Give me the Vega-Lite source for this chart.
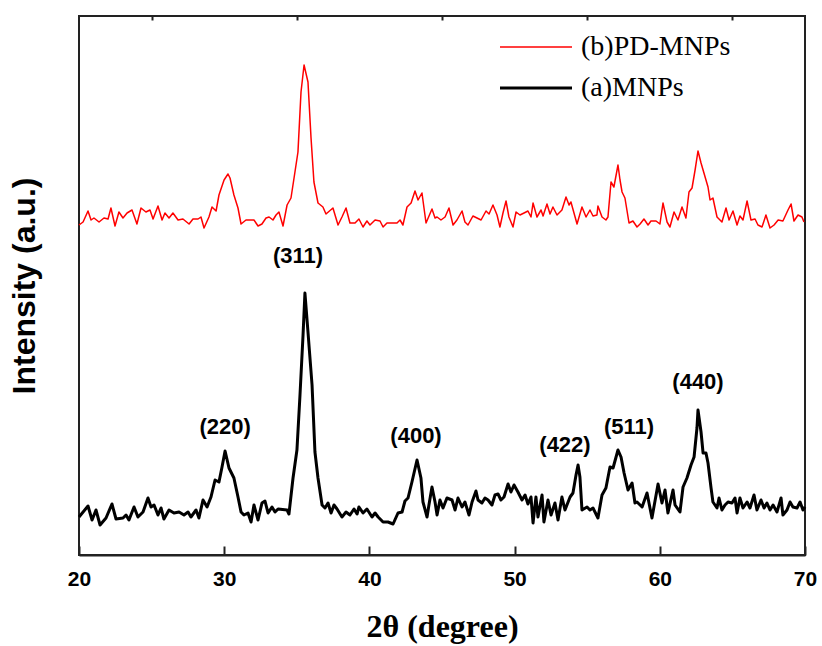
{
 "$schema": "https://vega.github.io/schema/vega-lite/v6.json",
 "width": 726, "height": 539,
 "autosize": "none",
 "padding": {"left": 79, "top": 16, "right": 17, "bottom": 91},
 "background": "white",
 "config": {"view": {"stroke": "#222", "strokeWidth": 2}},
 "datasets": {
  "xrd": [
   {"angle":20.00,"intensity":38,"sample":"(a)MNPs"},{"angle":20.62,"intensity":49,"sample":"(a)MNPs"},{"angle":20.90,"intensity":35,"sample":"(a)MNPs"},{"angle":21.17,"intensity":45,"sample":"(a)MNPs"},{"angle":21.45,"intensity":30,"sample":"(a)MNPs"},{"angle":21.86,"intensity":37,"sample":"(a)MNPs"},{"angle":22.27,"intensity":51,"sample":"(a)MNPs"},{"angle":22.55,"intensity":36,"sample":"(a)MNPs"},{"angle":23.03,"intensity":37,"sample":"(a)MNPs"},{"angle":23.24,"intensity":40,"sample":"(a)MNPs"},{"angle":23.44,"intensity":35,"sample":"(a)MNPs"},{"angle":23.79,"intensity":48,"sample":"(a)MNPs"},{"angle":24.06,"intensity":38,"sample":"(a)MNPs"},{"angle":24.41,"intensity":43,"sample":"(a)MNPs"},{"angle":24.75,"intensity":57,"sample":"(a)MNPs"},{"angle":24.96,"intensity":48,"sample":"(a)MNPs"},{"angle":25.17,"intensity":50,"sample":"(a)MNPs"},{"angle":25.44,"intensity":40,"sample":"(a)MNPs"},{"angle":25.65,"intensity":47,"sample":"(a)MNPs"},{"angle":25.85,"intensity":36,"sample":"(a)MNPs"},{"angle":26.20,"intensity":45,"sample":"(a)MNPs"},{"angle":26.54,"intensity":42,"sample":"(a)MNPs"},{"angle":26.89,"intensity":43,"sample":"(a)MNPs"},{"angle":27.23,"intensity":40,"sample":"(a)MNPs"},{"angle":27.51,"intensity":43,"sample":"(a)MNPs"},{"angle":27.71,"intensity":38,"sample":"(a)MNPs"},{"angle":28.06,"intensity":45,"sample":"(a)MNPs"},{"angle":28.26,"intensity":37,"sample":"(a)MNPs"},{"angle":28.54,"intensity":55,"sample":"(a)MNPs"},{"angle":28.82,"intensity":48,"sample":"(a)MNPs"},{"angle":29.09,"intensity":58,"sample":"(a)MNPs"},{"angle":29.37,"intensity":75,"sample":"(a)MNPs"},{"angle":29.64,"intensity":73,"sample":"(a)MNPs"},{"angle":29.85,"intensity":88,"sample":"(a)MNPs"},{"angle":30.06,"intensity":104,"sample":"(a)MNPs"},{"angle":30.33,"intensity":87,"sample":"(a)MNPs"},{"angle":30.67,"intensity":77,"sample":"(a)MNPs"},{"angle":30.95,"intensity":58,"sample":"(a)MNPs"},{"angle":31.16,"intensity":43,"sample":"(a)MNPs"},{"angle":31.36,"intensity":40,"sample":"(a)MNPs"},{"angle":31.64,"intensity":42,"sample":"(a)MNPs"},{"angle":31.85,"intensity":33,"sample":"(a)MNPs"},{"angle":32.05,"intensity":50,"sample":"(a)MNPs"},{"angle":32.33,"intensity":35,"sample":"(a)MNPs"},{"angle":32.60,"intensity":52,"sample":"(a)MNPs"},{"angle":32.81,"intensity":54,"sample":"(a)MNPs"},{"angle":33.02,"intensity":42,"sample":"(a)MNPs"},{"angle":33.29,"intensity":48,"sample":"(a)MNPs"},{"angle":33.50,"intensity":43,"sample":"(a)MNPs"},{"angle":33.71,"intensity":46,"sample":"(a)MNPs"},{"angle":34.33,"intensity":45,"sample":"(a)MNPs"},{"angle":34.46,"intensity":41,"sample":"(a)MNPs"},{"angle":34.74,"intensity":77,"sample":"(a)MNPs"},{"angle":35.01,"intensity":105,"sample":"(a)MNPs"},{"angle":35.22,"intensity":160,"sample":"(a)MNPs"},{"angle":35.43,"intensity":220,"sample":"(a)MNPs"},{"angle":35.56,"intensity":262,"sample":"(a)MNPs"},{"angle":35.77,"intensity":223,"sample":"(a)MNPs"},{"angle":36.05,"intensity":170,"sample":"(a)MNPs"},{"angle":36.25,"intensity":103,"sample":"(a)MNPs"},{"angle":36.46,"intensity":77,"sample":"(a)MNPs"},{"angle":36.74,"intensity":50,"sample":"(a)MNPs"},{"angle":36.94,"intensity":47,"sample":"(a)MNPs"},{"angle":37.15,"intensity":52,"sample":"(a)MNPs"},{"angle":37.36,"intensity":42,"sample":"(a)MNPs"},{"angle":37.56,"intensity":50,"sample":"(a)MNPs"},{"angle":37.77,"intensity":46,"sample":"(a)MNPs"},{"angle":38.11,"intensity":38,"sample":"(a)MNPs"},{"angle":38.39,"intensity":43,"sample":"(a)MNPs"},{"angle":38.66,"intensity":40,"sample":"(a)MNPs"},{"angle":38.94,"intensity":46,"sample":"(a)MNPs"},{"angle":39.15,"intensity":41,"sample":"(a)MNPs"},{"angle":39.28,"intensity":48,"sample":"(a)MNPs"},{"angle":39.56,"intensity":42,"sample":"(a)MNPs"},{"angle":39.83,"intensity":46,"sample":"(a)MNPs"},{"angle":40.18,"intensity":38,"sample":"(a)MNPs"},{"angle":40.39,"intensity":42,"sample":"(a)MNPs"},{"angle":40.60,"intensity":38,"sample":"(a)MNPs"},{"angle":40.94,"intensity":33,"sample":"(a)MNPs"},{"angle":41.28,"intensity":33,"sample":"(a)MNPs"},{"angle":41.63,"intensity":31,"sample":"(a)MNPs"},{"angle":41.97,"intensity":42,"sample":"(a)MNPs"},{"angle":42.25,"intensity":43,"sample":"(a)MNPs"},{"angle":42.45,"intensity":54,"sample":"(a)MNPs"},{"angle":42.66,"intensity":57,"sample":"(a)MNPs"},{"angle":42.93,"intensity":73,"sample":"(a)MNPs"},{"angle":43.28,"intensity":95,"sample":"(a)MNPs"},{"angle":43.55,"intensity":77,"sample":"(a)MNPs"},{"angle":43.69,"intensity":53,"sample":"(a)MNPs"},{"angle":43.97,"intensity":38,"sample":"(a)MNPs"},{"angle":44.10,"intensity":50,"sample":"(a)MNPs"},{"angle":44.31,"intensity":68,"sample":"(a)MNPs"},{"angle":44.52,"intensity":53,"sample":"(a)MNPs"},{"angle":44.66,"intensity":40,"sample":"(a)MNPs"},{"angle":44.86,"intensity":55,"sample":"(a)MNPs"},{"angle":45.07,"intensity":47,"sample":"(a)MNPs"},{"angle":45.34,"intensity":57,"sample":"(a)MNPs"},{"angle":45.69,"intensity":55,"sample":"(a)MNPs"},{"angle":45.90,"intensity":45,"sample":"(a)MNPs"},{"angle":46.10,"intensity":57,"sample":"(a)MNPs"},{"angle":46.38,"intensity":48,"sample":"(a)MNPs"},{"angle":46.58,"intensity":53,"sample":"(a)MNPs"},{"angle":46.86,"intensity":40,"sample":"(a)MNPs"},{"angle":47.07,"intensity":53,"sample":"(a)MNPs"},{"angle":47.34,"intensity":64,"sample":"(a)MNPs"},{"angle":47.48,"intensity":55,"sample":"(a)MNPs"},{"angle":47.75,"intensity":52,"sample":"(a)MNPs"},{"angle":47.96,"intensity":57,"sample":"(a)MNPs"},{"angle":48.17,"intensity":55,"sample":"(a)MNPs"},{"angle":48.44,"intensity":50,"sample":"(a)MNPs"},{"angle":48.65,"intensity":60,"sample":"(a)MNPs"},{"angle":48.86,"intensity":61,"sample":"(a)MNPs"},{"angle":49.06,"intensity":55,"sample":"(a)MNPs"},{"angle":49.27,"intensity":58,"sample":"(a)MNPs"},{"angle":49.55,"intensity":71,"sample":"(a)MNPs"},{"angle":49.75,"intensity":63,"sample":"(a)MNPs"},{"angle":49.96,"intensity":70,"sample":"(a)MNPs"},{"angle":50.23,"intensity":63,"sample":"(a)MNPs"},{"angle":50.51,"intensity":55,"sample":"(a)MNPs"},{"angle":50.72,"intensity":60,"sample":"(a)MNPs"},{"angle":50.92,"intensity":51,"sample":"(a)MNPs"},{"angle":51.13,"intensity":58,"sample":"(a)MNPs"},{"angle":51.27,"intensity":32,"sample":"(a)MNPs"},{"angle":51.47,"intensity":58,"sample":"(a)MNPs"},{"angle":51.61,"intensity":38,"sample":"(a)MNPs"},{"angle":51.89,"intensity":60,"sample":"(a)MNPs"},{"angle":52.02,"intensity":33,"sample":"(a)MNPs"},{"angle":52.30,"intensity":55,"sample":"(a)MNPs"},{"angle":52.51,"intensity":40,"sample":"(a)MNPs"},{"angle":52.78,"intensity":52,"sample":"(a)MNPs"},{"angle":52.99,"intensity":35,"sample":"(a)MNPs"},{"angle":53.26,"intensity":58,"sample":"(a)MNPs"},{"angle":53.47,"intensity":45,"sample":"(a)MNPs"},{"angle":53.82,"intensity":58,"sample":"(a)MNPs"},{"angle":54.02,"intensity":62,"sample":"(a)MNPs"},{"angle":54.23,"intensity":80,"sample":"(a)MNPs"},{"angle":54.37,"intensity":90,"sample":"(a)MNPs"},{"angle":54.50,"intensity":78,"sample":"(a)MNPs"},{"angle":54.64,"intensity":45,"sample":"(a)MNPs"},{"angle":54.99,"intensity":48,"sample":"(a)MNPs"},{"angle":55.19,"intensity":45,"sample":"(a)MNPs"},{"angle":55.40,"intensity":47,"sample":"(a)MNPs"},{"angle":55.74,"intensity":37,"sample":"(a)MNPs"},{"angle":56.02,"intensity":60,"sample":"(a)MNPs"},{"angle":56.29,"intensity":67,"sample":"(a)MNPs"},{"angle":56.57,"intensity":88,"sample":"(a)MNPs"},{"angle":56.78,"intensity":87,"sample":"(a)MNPs"},{"angle":57.12,"intensity":105,"sample":"(a)MNPs"},{"angle":57.33,"intensity":98,"sample":"(a)MNPs"},{"angle":57.54,"intensity":82,"sample":"(a)MNPs"},{"angle":57.81,"intensity":65,"sample":"(a)MNPs"},{"angle":58.09,"intensity":72,"sample":"(a)MNPs"},{"angle":58.29,"intensity":52,"sample":"(a)MNPs"},{"angle":58.43,"intensity":53,"sample":"(a)MNPs"},{"angle":58.78,"intensity":48,"sample":"(a)MNPs"},{"angle":59.12,"intensity":62,"sample":"(a)MNPs"},{"angle":59.46,"intensity":37,"sample":"(a)MNPs"},{"angle":59.88,"intensity":71,"sample":"(a)MNPs"},{"angle":60.15,"intensity":52,"sample":"(a)MNPs"},{"angle":60.36,"intensity":65,"sample":"(a)MNPs"},{"angle":60.56,"intensity":42,"sample":"(a)MNPs"},{"angle":60.91,"intensity":65,"sample":"(a)MNPs"},{"angle":61.05,"intensity":50,"sample":"(a)MNPs"},{"angle":61.39,"intensity":43,"sample":"(a)MNPs"},{"angle":61.60,"intensity":68,"sample":"(a)MNPs"},{"angle":61.87,"intensity":77,"sample":"(a)MNPs"},{"angle":62.15,"intensity":90,"sample":"(a)MNPs"},{"angle":62.36,"intensity":98,"sample":"(a)MNPs"},{"angle":62.56,"intensity":127,"sample":"(a)MNPs"},{"angle":62.63,"intensity":145,"sample":"(a)MNPs"},{"angle":62.84,"intensity":123,"sample":"(a)MNPs"},{"angle":62.98,"intensity":102,"sample":"(a)MNPs"},{"angle":63.18,"intensity":102,"sample":"(a)MNPs"},{"angle":63.32,"intensity":92,"sample":"(a)MNPs"},{"angle":63.53,"intensity":67,"sample":"(a)MNPs"},{"angle":63.66,"intensity":53,"sample":"(a)MNPs"},{"angle":63.94,"intensity":47,"sample":"(a)MNPs"},{"angle":64.08,"intensity":57,"sample":"(a)MNPs"},{"angle":64.28,"intensity":45,"sample":"(a)MNPs"},{"angle":64.49,"intensity":50,"sample":"(a)MNPs"},{"angle":64.70,"intensity":53,"sample":"(a)MNPs"},{"angle":64.97,"intensity":52,"sample":"(a)MNPs"},{"angle":65.18,"intensity":57,"sample":"(a)MNPs"},{"angle":65.32,"intensity":42,"sample":"(a)MNPs"},{"angle":65.52,"intensity":57,"sample":"(a)MNPs"},{"angle":65.73,"intensity":47,"sample":"(a)MNPs"},{"angle":66.01,"intensity":53,"sample":"(a)MNPs"},{"angle":66.21,"intensity":47,"sample":"(a)MNPs"},{"angle":66.49,"intensity":60,"sample":"(a)MNPs"},{"angle":66.69,"intensity":45,"sample":"(a)MNPs"},{"angle":66.97,"intensity":55,"sample":"(a)MNPs"},{"angle":67.18,"intensity":47,"sample":"(a)MNPs"},{"angle":67.38,"intensity":52,"sample":"(a)MNPs"},{"angle":67.59,"intensity":45,"sample":"(a)MNPs"},{"angle":67.80,"intensity":50,"sample":"(a)MNPs"},{"angle":68.07,"intensity":43,"sample":"(a)MNPs"},{"angle":68.35,"intensity":57,"sample":"(a)MNPs"},{"angle":68.48,"intensity":40,"sample":"(a)MNPs"},{"angle":68.76,"intensity":45,"sample":"(a)MNPs"},{"angle":68.97,"intensity":53,"sample":"(a)MNPs"},{"angle":69.17,"intensity":48,"sample":"(a)MNPs"},{"angle":69.45,"intensity":47,"sample":"(a)MNPs"},{"angle":69.66,"intensity":53,"sample":"(a)MNPs"},{"angle":69.86,"intensity":45,"sample":"(a)MNPs"},{"angle":70.00,"intensity":48,"sample":"(a)MNPs"},
   {"angle":20.00,"intensity":330,"sample":"(b)PD-MNPs"},{"angle":20.28,"intensity":333,"sample":"(b)PD-MNPs"},{"angle":20.62,"intensity":344,"sample":"(b)PD-MNPs"},{"angle":20.83,"intensity":335,"sample":"(b)PD-MNPs"},{"angle":21.03,"intensity":337,"sample":"(b)PD-MNPs"},{"angle":21.38,"intensity":333,"sample":"(b)PD-MNPs"},{"angle":21.72,"intensity":337,"sample":"(b)PD-MNPs"},{"angle":22.00,"intensity":336,"sample":"(b)PD-MNPs"},{"angle":22.20,"intensity":347,"sample":"(b)PD-MNPs"},{"angle":22.48,"intensity":329,"sample":"(b)PD-MNPs"},{"angle":22.75,"intensity":343,"sample":"(b)PD-MNPs"},{"angle":23.03,"intensity":337,"sample":"(b)PD-MNPs"},{"angle":23.31,"intensity":342,"sample":"(b)PD-MNPs"},{"angle":23.65,"intensity":345,"sample":"(b)PD-MNPs"},{"angle":23.99,"intensity":331,"sample":"(b)PD-MNPs"},{"angle":24.27,"intensity":347,"sample":"(b)PD-MNPs"},{"angle":24.61,"intensity":343,"sample":"(b)PD-MNPs"},{"angle":24.89,"intensity":345,"sample":"(b)PD-MNPs"},{"angle":25.10,"intensity":336,"sample":"(b)PD-MNPs"},{"angle":25.44,"intensity":349,"sample":"(b)PD-MNPs"},{"angle":25.72,"intensity":335,"sample":"(b)PD-MNPs"},{"angle":25.92,"intensity":342,"sample":"(b)PD-MNPs"},{"angle":26.20,"intensity":337,"sample":"(b)PD-MNPs"},{"angle":26.47,"intensity":342,"sample":"(b)PD-MNPs"},{"angle":26.82,"intensity":335,"sample":"(b)PD-MNPs"},{"angle":27.16,"intensity":336,"sample":"(b)PD-MNPs"},{"angle":27.58,"intensity":331,"sample":"(b)PD-MNPs"},{"angle":27.85,"intensity":336,"sample":"(b)PD-MNPs"},{"angle":28.20,"intensity":336,"sample":"(b)PD-MNPs"},{"angle":28.40,"intensity":338,"sample":"(b)PD-MNPs"},{"angle":28.61,"intensity":327,"sample":"(b)PD-MNPs"},{"angle":28.95,"intensity":338,"sample":"(b)PD-MNPs"},{"angle":29.16,"intensity":348,"sample":"(b)PD-MNPs"},{"angle":29.44,"intensity":344,"sample":"(b)PD-MNPs"},{"angle":29.64,"intensity":360,"sample":"(b)PD-MNPs"},{"angle":29.99,"intensity":375,"sample":"(b)PD-MNPs"},{"angle":30.26,"intensity":381,"sample":"(b)PD-MNPs"},{"angle":30.40,"intensity":377,"sample":"(b)PD-MNPs"},{"angle":30.67,"intensity":360,"sample":"(b)PD-MNPs"},{"angle":30.95,"intensity":347,"sample":"(b)PD-MNPs"},{"angle":31.16,"intensity":331,"sample":"(b)PD-MNPs"},{"angle":31.50,"intensity":335,"sample":"(b)PD-MNPs"},{"angle":31.85,"intensity":335,"sample":"(b)PD-MNPs"},{"angle":32.05,"intensity":335,"sample":"(b)PD-MNPs"},{"angle":32.33,"intensity":329,"sample":"(b)PD-MNPs"},{"angle":32.60,"intensity":331,"sample":"(b)PD-MNPs"},{"angle":32.88,"intensity":337,"sample":"(b)PD-MNPs"},{"angle":33.09,"intensity":338,"sample":"(b)PD-MNPs"},{"angle":33.36,"intensity":335,"sample":"(b)PD-MNPs"},{"angle":33.57,"intensity":340,"sample":"(b)PD-MNPs"},{"angle":33.77,"intensity":343,"sample":"(b)PD-MNPs"},{"angle":34.05,"intensity":329,"sample":"(b)PD-MNPs"},{"angle":34.33,"intensity":350,"sample":"(b)PD-MNPs"},{"angle":34.60,"intensity":357,"sample":"(b)PD-MNPs"},{"angle":34.81,"intensity":377,"sample":"(b)PD-MNPs"},{"angle":35.08,"intensity":403,"sample":"(b)PD-MNPs"},{"angle":35.29,"intensity":463,"sample":"(b)PD-MNPs"},{"angle":35.50,"intensity":490,"sample":"(b)PD-MNPs"},{"angle":35.77,"intensity":473,"sample":"(b)PD-MNPs"},{"angle":35.98,"intensity":417,"sample":"(b)PD-MNPs"},{"angle":36.18,"intensity":373,"sample":"(b)PD-MNPs"},{"angle":36.46,"intensity":352,"sample":"(b)PD-MNPs"},{"angle":36.80,"intensity":348,"sample":"(b)PD-MNPs"},{"angle":37.01,"intensity":341,"sample":"(b)PD-MNPs"},{"angle":37.49,"intensity":347,"sample":"(b)PD-MNPs"},{"angle":37.84,"intensity":330,"sample":"(b)PD-MNPs"},{"angle":38.11,"intensity":338,"sample":"(b)PD-MNPs"},{"angle":38.39,"intensity":347,"sample":"(b)PD-MNPs"},{"angle":38.66,"intensity":332,"sample":"(b)PD-MNPs"},{"angle":39.01,"intensity":332,"sample":"(b)PD-MNPs"},{"angle":39.28,"intensity":336,"sample":"(b)PD-MNPs"},{"angle":39.56,"intensity":328,"sample":"(b)PD-MNPs"},{"angle":39.83,"intensity":334,"sample":"(b)PD-MNPs"},{"angle":40.04,"intensity":330,"sample":"(b)PD-MNPs"},{"angle":40.39,"intensity":335,"sample":"(b)PD-MNPs"},{"angle":40.73,"intensity":334,"sample":"(b)PD-MNPs"},{"angle":40.94,"intensity":328,"sample":"(b)PD-MNPs"},{"angle":41.21,"intensity":332,"sample":"(b)PD-MNPs"},{"angle":41.56,"intensity":332,"sample":"(b)PD-MNPs"},{"angle":41.90,"intensity":332,"sample":"(b)PD-MNPs"},{"angle":42.11,"intensity":335,"sample":"(b)PD-MNPs"},{"angle":42.31,"intensity":330,"sample":"(b)PD-MNPs"},{"angle":42.59,"intensity":348,"sample":"(b)PD-MNPs"},{"angle":42.87,"intensity":352,"sample":"(b)PD-MNPs"},{"angle":43.14,"intensity":364,"sample":"(b)PD-MNPs"},{"angle":43.35,"intensity":355,"sample":"(b)PD-MNPs"},{"angle":43.62,"intensity":362,"sample":"(b)PD-MNPs"},{"angle":43.90,"intensity":332,"sample":"(b)PD-MNPs"},{"angle":44.31,"intensity":346,"sample":"(b)PD-MNPs"},{"angle":44.52,"intensity":337,"sample":"(b)PD-MNPs"},{"angle":44.66,"intensity":338,"sample":"(b)PD-MNPs"},{"angle":44.93,"intensity":335,"sample":"(b)PD-MNPs"},{"angle":45.21,"intensity":338,"sample":"(b)PD-MNPs"},{"angle":45.48,"intensity":347,"sample":"(b)PD-MNPs"},{"angle":45.76,"intensity":330,"sample":"(b)PD-MNPs"},{"angle":46.03,"intensity":335,"sample":"(b)PD-MNPs"},{"angle":46.38,"intensity":344,"sample":"(b)PD-MNPs"},{"angle":46.58,"intensity":333,"sample":"(b)PD-MNPs"},{"angle":46.79,"intensity":330,"sample":"(b)PD-MNPs"},{"angle":47.13,"intensity":339,"sample":"(b)PD-MNPs"},{"angle":47.41,"intensity":337,"sample":"(b)PD-MNPs"},{"angle":47.69,"intensity":335,"sample":"(b)PD-MNPs"},{"angle":48.03,"intensity":344,"sample":"(b)PD-MNPs"},{"angle":48.24,"intensity":341,"sample":"(b)PD-MNPs"},{"angle":48.51,"intensity":350,"sample":"(b)PD-MNPs"},{"angle":48.79,"intensity":340,"sample":"(b)PD-MNPs"},{"angle":48.99,"intensity":328,"sample":"(b)PD-MNPs"},{"angle":49.20,"intensity":342,"sample":"(b)PD-MNPs"},{"angle":49.41,"intensity":354,"sample":"(b)PD-MNPs"},{"angle":49.61,"intensity":338,"sample":"(b)PD-MNPs"},{"angle":49.89,"intensity":328,"sample":"(b)PD-MNPs"},{"angle":50.10,"intensity":343,"sample":"(b)PD-MNPs"},{"angle":50.37,"intensity":340,"sample":"(b)PD-MNPs"},{"angle":50.65,"intensity":342,"sample":"(b)PD-MNPs"},{"angle":50.92,"intensity":344,"sample":"(b)PD-MNPs"},{"angle":51.13,"intensity":338,"sample":"(b)PD-MNPs"},{"angle":51.27,"intensity":352,"sample":"(b)PD-MNPs"},{"angle":51.54,"intensity":338,"sample":"(b)PD-MNPs"},{"angle":51.82,"intensity":345,"sample":"(b)PD-MNPs"},{"angle":51.96,"intensity":339,"sample":"(b)PD-MNPs"},{"angle":52.23,"intensity":351,"sample":"(b)PD-MNPs"},{"angle":52.44,"intensity":341,"sample":"(b)PD-MNPs"},{"angle":52.64,"intensity":348,"sample":"(b)PD-MNPs"},{"angle":52.92,"intensity":340,"sample":"(b)PD-MNPs"},{"angle":53.26,"intensity":345,"sample":"(b)PD-MNPs"},{"angle":53.54,"intensity":358,"sample":"(b)PD-MNPs"},{"angle":53.75,"intensity":350,"sample":"(b)PD-MNPs"},{"angle":53.88,"intensity":353,"sample":"(b)PD-MNPs"},{"angle":54.30,"intensity":331,"sample":"(b)PD-MNPs"},{"angle":54.64,"intensity":348,"sample":"(b)PD-MNPs"},{"angle":54.92,"intensity":338,"sample":"(b)PD-MNPs"},{"angle":55.19,"intensity":345,"sample":"(b)PD-MNPs"},{"angle":55.40,"intensity":339,"sample":"(b)PD-MNPs"},{"angle":55.67,"intensity":340,"sample":"(b)PD-MNPs"},{"angle":55.74,"intensity":349,"sample":"(b)PD-MNPs"},{"angle":56.02,"intensity":338,"sample":"(b)PD-MNPs"},{"angle":56.29,"intensity":335,"sample":"(b)PD-MNPs"},{"angle":56.43,"intensity":338,"sample":"(b)PD-MNPs"},{"angle":56.64,"intensity":373,"sample":"(b)PD-MNPs"},{"angle":56.84,"intensity":368,"sample":"(b)PD-MNPs"},{"angle":57.12,"intensity":390,"sample":"(b)PD-MNPs"},{"angle":57.26,"intensity":375,"sample":"(b)PD-MNPs"},{"angle":57.40,"intensity":363,"sample":"(b)PD-MNPs"},{"angle":57.60,"intensity":357,"sample":"(b)PD-MNPs"},{"angle":57.88,"intensity":332,"sample":"(b)PD-MNPs"},{"angle":58.15,"intensity":334,"sample":"(b)PD-MNPs"},{"angle":58.43,"intensity":328,"sample":"(b)PD-MNPs"},{"angle":58.64,"intensity":331,"sample":"(b)PD-MNPs"},{"angle":58.91,"intensity":336,"sample":"(b)PD-MNPs"},{"angle":59.19,"intensity":330,"sample":"(b)PD-MNPs"},{"angle":59.39,"intensity":334,"sample":"(b)PD-MNPs"},{"angle":59.74,"intensity":334,"sample":"(b)PD-MNPs"},{"angle":60.01,"intensity":331,"sample":"(b)PD-MNPs"},{"angle":60.22,"intensity":352,"sample":"(b)PD-MNPs"},{"angle":60.50,"intensity":333,"sample":"(b)PD-MNPs"},{"angle":60.70,"intensity":328,"sample":"(b)PD-MNPs"},{"angle":60.98,"intensity":343,"sample":"(b)PD-MNPs"},{"angle":61.25,"intensity":335,"sample":"(b)PD-MNPs"},{"angle":61.53,"intensity":348,"sample":"(b)PD-MNPs"},{"angle":61.80,"intensity":337,"sample":"(b)PD-MNPs"},{"angle":62.01,"intensity":363,"sample":"(b)PD-MNPs"},{"angle":62.22,"intensity":367,"sample":"(b)PD-MNPs"},{"angle":62.43,"intensity":385,"sample":"(b)PD-MNPs"},{"angle":62.63,"intensity":404,"sample":"(b)PD-MNPs"},{"angle":62.84,"intensity":392,"sample":"(b)PD-MNPs"},{"angle":63.04,"intensity":382,"sample":"(b)PD-MNPs"},{"angle":63.32,"intensity":368,"sample":"(b)PD-MNPs"},{"angle":63.46,"intensity":355,"sample":"(b)PD-MNPs"},{"angle":63.66,"intensity":357,"sample":"(b)PD-MNPs"},{"angle":63.94,"intensity":338,"sample":"(b)PD-MNPs"},{"angle":64.28,"intensity":333,"sample":"(b)PD-MNPs"},{"angle":64.56,"intensity":347,"sample":"(b)PD-MNPs"},{"angle":64.77,"intensity":335,"sample":"(b)PD-MNPs"},{"angle":65.04,"intensity":344,"sample":"(b)PD-MNPs"},{"angle":65.32,"intensity":330,"sample":"(b)PD-MNPs"},{"angle":65.52,"intensity":339,"sample":"(b)PD-MNPs"},{"angle":65.73,"intensity":335,"sample":"(b)PD-MNPs"},{"angle":66.01,"intensity":354,"sample":"(b)PD-MNPs"},{"angle":66.28,"intensity":335,"sample":"(b)PD-MNPs"},{"angle":66.56,"intensity":336,"sample":"(b)PD-MNPs"},{"angle":66.76,"intensity":330,"sample":"(b)PD-MNPs"},{"angle":67.04,"intensity":328,"sample":"(b)PD-MNPs"},{"angle":67.31,"intensity":340,"sample":"(b)PD-MNPs"},{"angle":67.59,"intensity":327,"sample":"(b)PD-MNPs"},{"angle":67.87,"intensity":330,"sample":"(b)PD-MNPs"},{"angle":68.15,"intensity":335,"sample":"(b)PD-MNPs"},{"angle":68.48,"intensity":334,"sample":"(b)PD-MNPs"},{"angle":68.83,"intensity":345,"sample":"(b)PD-MNPs"},{"angle":69.04,"intensity":351,"sample":"(b)PD-MNPs"},{"angle":69.24,"intensity":334,"sample":"(b)PD-MNPs"},{"angle":69.52,"intensity":340,"sample":"(b)PD-MNPs"},{"angle":69.79,"intensity":338,"sample":"(b)PD-MNPs"},{"angle":69.93,"intensity":333,"sample":"(b)PD-MNPs"}
  ],
  "peaks": [
   {"angle":30.06,"intensity":128,"label":"(220)"},
   {"angle":35.08,"intensity":299,"label":"(311)"},
   {"angle":43.21,"intensity":119,"label":"(400)"},
   {"angle":53.47,"intensity":110,"label":"(422)"},
   {"angle":57.88,"intensity":128,"label":"(511)"},
   {"angle":62.63,"intensity":173,"label":"(440)"}
  ]
 },
 "resolve": {"axis": {"x": "independent"}},
 "layer": [
  {
   "data": {"name": "xrd"},
   "mark": {"type": "line", "strokeJoin": "round"},
   "encoding": {
    "x": {"field": "angle", "type": "quantitative",
     "scale": {"domain": [20, 70], "nice": false, "zero": false},
     "axis": {"values": [20, 30, 40, 50, 60, 70], "tickSize": -9, "tickWidth": 2, "tickColor": "#222",
      "domainColor": "#222", "domainWidth": 2, "grid": false, "labelFlush": false,
      "labelFont": "Liberation Sans Narrow, Liberation Sans", "labelFontWeight": "bold", "labelFontSize": 21, "labelColor": "black", "labelPadding": 22,
      "title": "2θ (degree)", "titleFont": "Liberation Serif", "titleFontSize": 32, "titleFontWeight": "bold", "titleColor": "black", "titlePadding": 22}},
    "y": {"field": "intensity", "type": "quantitative",
     "scale": {"domain": [0, 539], "nice": false, "zero": false},
     "axis": {"labels": false, "ticks": false, "domain": false, "grid": false,
      "title": "Intensity (a.u.)", "titleFont": "Liberation Sans", "titleFontSize": 32, "titleFontWeight": "bold", "titleColor": "black", "titlePadding": 38}},
    "color": {"field": "sample", "type": "nominal",
     "scale": {"domain": ["(b)PD-MNPs", "(a)MNPs"], "range": ["#ff0000", "#000000"]},
     "legend": {"title": null, "orient": "none", "legendX": 443, "legendY": 17, "padding": 0,
      "symbolType": "M-3,0H3", "symbolSize": 576, "labelOffset": 31, "rowPadding": 13,
      "labelFont": "Liberation Serif", "labelFontSize": 28, "labelColor": "black", "labelLimit": 400}},
    "strokeWidth": {"field": "sample", "type": "nominal",
     "scale": {"domain": ["(b)PD-MNPs", "(a)MNPs"], "range": [1.5, 3]},
     "legend": {"title": null, "orient": "none", "legendX": 443, "legendY": 17, "padding": 0,
      "symbolType": "M-3,0H3", "symbolSize": 576, "labelOffset": 31, "rowPadding": 13,
      "labelFont": "Liberation Serif", "labelFontSize": 28, "labelColor": "black", "labelLimit": 400}}
   }
  },
  {
   "data": {"name": "peaks"},
   "mark": {"type": "text", "font": "Liberation Sans", "fontWeight": "bold", "fontSize": 22, "align": "center", "baseline": "middle", "color": "black"},
   "encoding": {
    "x": {"field": "angle", "type": "quantitative",
     "axis": {"values": [25, 35, 45, 55, 65], "tickSize": -4, "tickWidth": 2, "tickColor": "#222", "labels": false, "domain": false, "grid": false, "title": null}},
    "y": {"field": "intensity", "type": "quantitative"},
    "text": {"field": "label"}
   }
  }
 ]
}
